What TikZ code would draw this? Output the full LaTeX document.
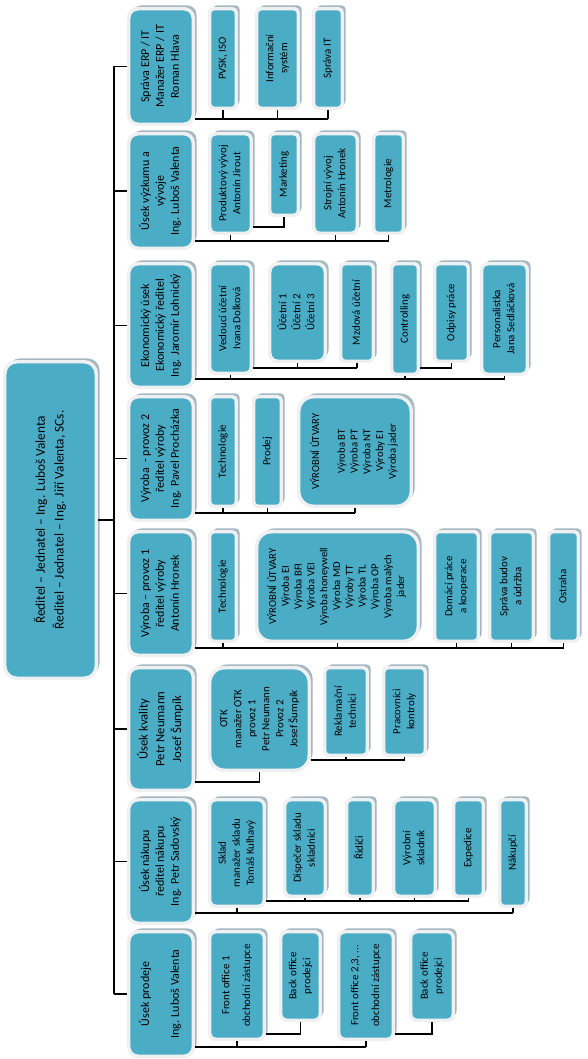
\documentclass[tikz,border=0pt]{standalone}
\usepackage{fontspec}
\setmainfont{Carlito}
\usepackage{graphicx}
\usetikzlibrary{shadows}
\definecolor{tealfill}{HTML}{4BACC6}
\definecolor{framecol}{HTML}{EEF0F1}
\definecolor{shadowcol}{HTML}{A6B8C1}
\tikzset{
 box/.style={draw=framecol, line width=2.6pt, fill=tealfill, inner sep=1pt, align=center,
   drop shadow={shadow xshift=2.5pt, shadow yshift=2.5pt, fill=shadowcol, opacity=1}},
 conn/.style={line width=1pt, draw=black},
}
\newcommand\fR{\fontsize{10}{14}\selectfont}
\newcommand\fA{\fontsize{9}{11.2}\selectfont}
\newcommand\fB{\fontsize{8.2}{10.5}\selectfont}
\newcommand\fV{\fontsize{8}{9.6}\selectfont}
\newcommand\orgbox[8]{%
 \pgfmathsetmacro\obw{(#4-#2-5.5)*0.75}%
 \pgfmathsetmacro\obh{(#5-#3-5.5)*0.75}%
 \pgfmathsetmacro\obcx{(#2+#4)/2-1}%
 \pgfmathsetmacro\obcy{(#3+#5)/2+1}%
 \node[box, rounded corners=#6, minimum width=\obw pt, minimum height=\obh pt] (#1) at (\obcx,\obcy)
   {\rotatebox{90}{#7\begin{tabular}{@{}c@{}}#8\end{tabular}}};%
}
\begin{document}
\begin{tikzpicture}[x=0.75pt,y=-0.75pt]
\fill[white] (0,0) rectangle (587,1059);
\useasboundingbox (0,0) rectangle (587,1059);
% root
\orgbox{root}{3}{358}{100}{680}{9pt}{\fR}{Ředitel – Jednatel – Ing. Luboš Valenta\\Ředitel – Jednatel – Ing. Jiří Valenta, SCs.}
% level 1
\orgbox{A}{127}{5}{197}{126}{7pt}{\fA}{Správa ERP / IT\\Manažer ERP / IT\\Roman Hlava}
\orgbox{B}{127}{130}{197}{250}{7pt}{\fA}{Úsek výzkumu a\\vývoje\\Ing. Luboš Valenta}
\orgbox{C}{127}{260}{197}{389}{7pt}{\fA}{Ekonomický úsek\\Ekonomický ředitel\\Ing. Jaromír Lohnický}
\orgbox{D}{127}{393}{197}{522}{7pt}{\fA}{Výroba \ - provoz 2\\ředitel výroby\\Ing. Pavel Procházka}
\orgbox{E}{127}{528}{197}{657}{7pt}{\fA}{Výroba – provoz 1\\ředitel výroby\\Antonín Hronek}
\orgbox{F}{127}{664}{197}{792}{7pt}{\fontsize{9.5}{12.5}\selectfont}{Úsek kvality\\Petr Neumann\\Josef Šumpík}
\orgbox{G}{127}{796}{197}{925}{7pt}{\fA}{Úsek nákupu\\ředitel nákupu\\Ing. Petr Sadovský}
\orgbox{H}{127}{928}{197}{1058}{7pt}{\fA}{Úsek prodeje\\ \\Ing. Luboš Valenta}
% group A
\orgbox{apvsk}{208}{5}{240}{110}{3pt}{\fB}{PVSK, ISO}
\orgbox{ainfo}{255}{5}{302}{110}{3pt}{\fB}{Informační\\systém}
\orgbox{ait}{312}{5}{346}{110}{3pt}{\fB}{Správa IT}
% group B
\orgbox{bprod}{208}{130}{255}{235}{4.5pt}{\fB}{Produktový vývoj\\Antonín Jirout}
\orgbox{bmkt}{268}{130}{302}{217}{3pt}{\fB}{Marketing}
\orgbox{bstroj}{312}{130}{361}{235}{4.5pt}{\fB}{Strojní vývoj\\Antonín Hronek}
\orgbox{bmetr}{372}{130}{407}{235}{3pt}{\fB}{Metrologie}
% group C
\orgbox{cved}{208}{260}{255}{375}{4.5pt}{\fB}{Vedoucí účetní\\Ivana Dolková}
\orgbox{cuc}{268}{260}{329}{363}{6pt}{\fB}{Účetní 1\\Účetní 2\\Účetní 3}
\orgbox{cmzd}{339}{260}{377}{363}{3pt}{\fB}{Mzdová účetní}
\orgbox{cctrl}{390}{260}{422}{376}{3pt}{\fB}{Controlling}
\orgbox{codp}{433}{260}{472}{363}{3pt}{\fB}{Odpisy práce}
\orgbox{cpers}{480}{260}{531}{376}{4.5pt}{\fB}{Personalistka\\Jana Sedláčková}
% group D
\orgbox{dtech}{208}{393}{240}{508}{3pt}{\fB}{Technologie}
\orgbox{dprod}{252}{393}{285}{508}{3pt}{\fB}{Prodej}
\orgbox{dvu}{297}{393}{415}{508}{11pt}{\fV}{VÝROBNÍ ÚTVARY\\ \\Výroba BT\\Výroba PT\\Výroba NT\\Výroby EI\\Výroba jader}
% group E
\orgbox{etech}{208}{528}{240}{643}{3pt}{\fB}{Technologie}
\orgbox{evu}{255}{528}{422}{643}{11pt}{\fV}{VÝROBNÍ ÚTVARY\\Výroba EI\\Výroba BFI\\Výroba VEI\\Výroba honeywell\\Výroba MD\\Výroby TT\\Výroba TL\\Výroba OP\\Výroba malých\\jader}
\orgbox{edom}{433}{528}{482}{643}{3pt}{\fB}{Domácí práce\\a kooperace}
\orgbox{ebud}{488}{528}{537}{643}{3pt}{\fB}{Správa budov\\a údržba}
\orgbox{eostr}{547}{528}{582}{643}{3pt}{\fB}{Ostraha}
% group F
\orgbox{fotk}{208}{664}{313}{772}{11pt}{\fB}{OTK\\manažer OTK\\provoz 1\\Petr Neumann\\Provoz 2\\Josef Šumpík}
\orgbox{frekl}{323}{664}{371}{757}{3pt}{\fB}{Reklamační\\technici}
\orgbox{fprac}{382}{664}{429}{757}{3pt}{\fB}{Pracovníci\\kontroly}
% group G
\orgbox{gskl}{208}{796}{268}{908}{4.5pt}{\fB}{Sklad\\manažer skladu\\Tomáš Kulhavý}
\orgbox{gdisp}{283}{796}{329}{898}{4.5pt}{\fB}{Dispečer skladu\\skladníci}
\orgbox{grid}{345}{796}{377}{898}{3pt}{\fB}{Řidiči}
\orgbox{gvyr}{392}{796}{439}{898}{4.5pt}{\fB}{Výrobní\\skladník}
\orgbox{gexp}{452}{796}{487}{898}{3pt}{\fB}{Expedice}
\orgbox{gnak}{498}{796}{530}{908}{3pt}{\fB}{Nákupčí}
% group H
\orgbox{hfr1}{208}{928}{268}{1041}{4.5pt}{\fB}{Front office 1\\[5pt]obchodní zástupce}
\orgbox{hbo1}{279}{928}{324}{1022}{4.5pt}{\fB}{Back office\\prodejci}
\orgbox{hfr2}{337}{928}{397}{1041}{4.5pt}{\fB}{Front office 2,3, ...\\[5pt]obchodní zástupce}
\orgbox{hbo2}{409}{928}{457}{1022}{4.5pt}{\fB}{Back office\\prodejci}
% trunk
\coordinate (trunk) at (114,0);
\draw[conn] (root.east) -- (root.east -| trunk);
\draw[conn] (trunk |- A.west) -- (trunk |- H.west);
\foreach \n in {A,B,C,D,E,F,G,H} \draw[conn] (trunk |- \n.west) -- (\n.west);
% buses
\coordinate (busA) at (0,119);
\draw[conn] (A.east |- busA) -- (ait.south |- busA);
\foreach \c in {apvsk,ainfo,ait} \draw[conn] (\c.south) -- (\c.south |- busA);
\coordinate (busB) at (0,241);
\coordinate (sideB) at (0,227);
\draw[conn] (B.east |- busB) -- (bmetr.south |- busB);
\foreach \c in {bprod,bstroj,bmetr} \draw[conn] (\c.south) -- (\c.south |- busB);
\draw[conn] (bprod.east |- sideB) -| (bmkt.south);
\coordinate (busC) at (0,379);
\coordinate (sideC) at (0,368);
\draw[conn] (C.east |- busC) -- (cpers.south |- busC);
\foreach \c in {cved,cctrl,cpers} \draw[conn] (\c.south) -- (\c.south |- busC);
\draw[conn] (cved.east |- sideC) -- (cmzd.south |- sideC);
\foreach \c in {cuc,cmzd} \draw[conn] (\c.south) -- (\c.south |- sideC);
\draw[conn] (cctrl.east |- sideC) -| (codp.south);
\coordinate (busD) at (0,513);
\draw[conn] (D.east |- busD) -- (dvu.south |- busD);
\foreach \c in {dtech,dprod,dvu} \draw[conn] (\c.south) -- (\c.south |- busD);
\coordinate (busE) at (0,648);
\draw[conn] (E.east |- busE) -- (eostr.south |- busE);
\foreach \c in {etech,evu,edom,ebud,eostr} \draw[conn] (\c.south) -- (\c.south |- busE);
\coordinate (busF) at (0,782);
\coordinate (sideF) at (0,760);
\draw[conn] (F.east |- busF) -| (fotk.south);
\draw[conn] (fotk.east |- sideF) -- (fprac.south |- sideF);
\foreach \c in {frekl,fprac} \draw[conn] (\c.south) -- (\c.south |- sideF);
\coordinate (busG) at (0,913);
\coordinate (sideG) at (0,901);
\draw[conn] (G.east |- busG) -- (gnak.south |- busG);
\foreach \c in {gskl,gnak} \draw[conn] (\c.south) -- (\c.south |- busG);
\draw[conn] (gskl.east |- sideG) -- (gexp.south |- sideG);
\foreach \c in {gdisp,grid,gvyr,gexp} \draw[conn] (\c.south) -- (\c.south |- sideG);
\coordinate (busH) at (0,1047);
\coordinate (sideH) at (0,1034);
\draw[conn] (H.east |- busH) -- (hfr2.south |- busH);
\foreach \c in {hfr1,hfr2} \draw[conn] (\c.south) -- (\c.south |- busH);
\draw[conn] (hfr1.east |- sideH) -| (hbo1.south);
\draw[conn] (hfr2.east |- sideH) -| (hbo2.south);
\end{tikzpicture}
\end{document}
